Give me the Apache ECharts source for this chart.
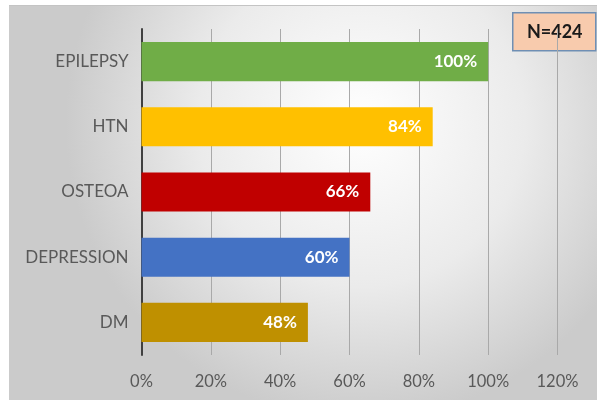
<!DOCTYPE html>
<html>
<head>
<meta charset="utf-8">
<script src="https://cdn.jsdelivr.net/npm/echarts@6/dist/echarts.min.js"></script>
<style>
html,body{margin:0;padding:0;background:#ffffff;}
#chart{width:597px;height:402px;}
</style>
</head>
<body>
<div id="chart"></div>
<script>
const categories = ['EPILEPSY', 'HTN', 'OSTEOA', 'DEPRESSION', 'DM'];
const values = [1.00, 0.84, 0.66, 0.60, 0.48];
const barColors = ['#70AD47', '#FFC000', '#C00000', '#4472C4', '#BF9000'];
const tickLabels = ['0%', '20%', '40%', '60%', '80%', '100%', '120%'];
const noteText = 'N=424';

const chart = echarts.init(document.getElementById('chart'), null, {renderer: 'canvas'});
const FONT = 'Lato, "Open Sans", sans-serif';

chart.setOption({
  animation: false,
  backgroundColor: '#ffffff',
  graphic: [
    {
      type: 'rect', z: -10, silent: true,
      shape: {x: 9, y: 5, width: 588, height: 395},
      style: {
        fill: new echarts.graphic.RadialGradient(0.6, 0.3, 0.75, [
          {offset: 0, color: '#ffffff'},
          {offset: 0.55, color: '#ebebeb'},
          {offset: 1, color: '#cbcbcb'}
        ]),
        stroke: null
      }
    },
    {
      type: 'line', z: -5, silent: true,
      shape: {x1: 9, y1: 5.5, x2: 597, y2: 5.5},
      style: {stroke: '#c4c4c4', lineWidth: 1}
    },
    {
      type: 'group', left: 512, top: 12, z: 10,
      children: [
        {
          type: 'rect',
          shape: {x: 0, y: 0, width: 83, height: 38},
          style: {fill: '#F8CBAD', stroke: '#6F8FB4', lineWidth: 1.5}
        },
        {
          type: 'text',
          style: {
            x: 42, y: 19, text: noteText, align: 'center', verticalAlign: 'middle',
            font: 'bold 18px ' + FONT, fill: '#1a1a1a'
          }
        }
      ]
    }
  ],
  grid: {left: 141.5, right: 39.5, top: 29, bottom: 47, containLabel: false},
  xAxis: {
    type: 'value', min: 0, max: 1.2, interval: 0.2,
    axisLine: {show: false},
    axisTick: {show: false},
    splitLine: {show: true, lineStyle: {color: '#a9a9a9', width: 1}},
    axisLabel: {
      margin: 18, color: '#595959', fontSize: 16.5, fontFamily: FONT,
      formatter: function (v) { return tickLabels[Math.round(v / 0.2)]; }
    }
  },
  yAxis: {
    type: 'category', data: categories, inverse: true,
    axisLine: {show: true, lineStyle: {color: '#404040', width: 2}},
    axisTick: {show: false},
    axisLabel: {margin: 13, color: '#595959', fontSize: 17, fontFamily: FONT}
  },
  series: [{
    type: 'bar',
    barCategoryGap: '40%',
    data: values.map((v, i) => ({value: v, itemStyle: {color: barColors[i]}})),
    label: {
      show: true, position: 'insideRight', distance: 11,
      color: '#ffffff', fontWeight: 'bold', fontSize: 17, fontFamily: FONT,
      formatter: p => Math.round(p.value * 100) + '%'
    }
  }]
});
</script>
</body>
</html>
